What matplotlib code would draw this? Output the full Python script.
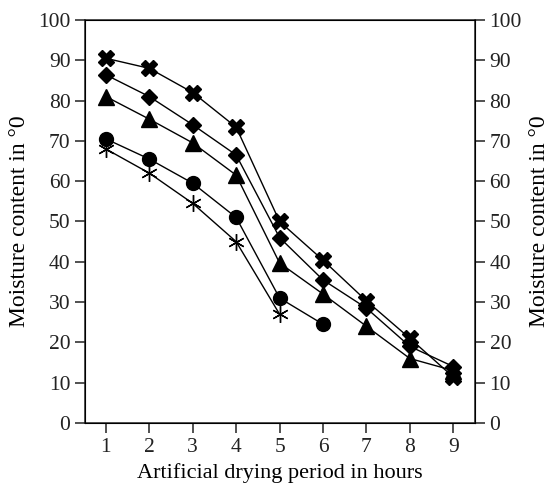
import matplotlib.pyplot as plt

plt.rcParams['font.family'] = ['Liberation Serif', 'DejaVu Serif']

hours = [1, 2, 3, 4, 5, 6, 7, 8, 9]
series_x = [90.5, 88, 82, 73.4, 50, 40.4, 30.3, 21, 11.4]
series_diamond = [86.4, 81, 74, 66.5, 46, 35.5, 28.5, 19, 14]
series_triangle = [81, 75.4, 69.5, 61.5, 39.7, 32, 24, 16, 13]
series_circle = [70.5, 65.5, 59.5, 51, 31, 24.5]
series_star = [68, 62, 54.5, 45, 27]
y_ticks = [0, 10, 20, 30, 40, 50, 60, 70, 80, 90, 100]

fig = plt.figure(figsize=(5.53, 4.96), dpi=100)
ax = fig.add_axes([0.1537, 0.1472, 0.7053, 0.8125])

ax.plot(hours, series_x, color="black", lw=1, marker="X", ms=12)
ax.plot(hours, series_diamond, color="black", lw=1, marker="D", ms=8)
ax.plot(hours, series_triangle, color="black", lw=1, marker="^", ms=11)
ax.plot(hours[:len(series_circle)], series_circle, color="black", lw=1, marker="o", ms=10)
ax.plot(hours[:len(series_star)], series_star, color="black", lw=1,
        marker=(6, 2, 0), ms=12, mew=1)

ax.set_xlim(0.52, 9.5)
ax.set_ylim(0, 100)
ax.set_xticks(hours)
ax.set_yticks(y_ticks)
ax.tick_params(direction="out", length=7, width=1.1, labelsize=15.5, colors="#222222")
ax.set_xlabel("Artificial drying period in hours", fontsize=16, labelpad=5)
ax.set_ylabel("Moisture content in °0", fontsize=17, labelpad=6)
for sp in ax.spines.values():
    sp.set_linewidth(1.1)
    sp.set_color("#222222")

ax2 = ax.twinx()
ax2.set_ylim(0, 100)
ax2.set_yticks(y_ticks)
ax2.tick_params(direction="out", length=7, width=1.1, labelsize=15.5, colors="#222222")
ax2.set_ylabel("Moisture content in °0", fontsize=17, labelpad=5)

fig.savefig("out.png", dpi=100)
